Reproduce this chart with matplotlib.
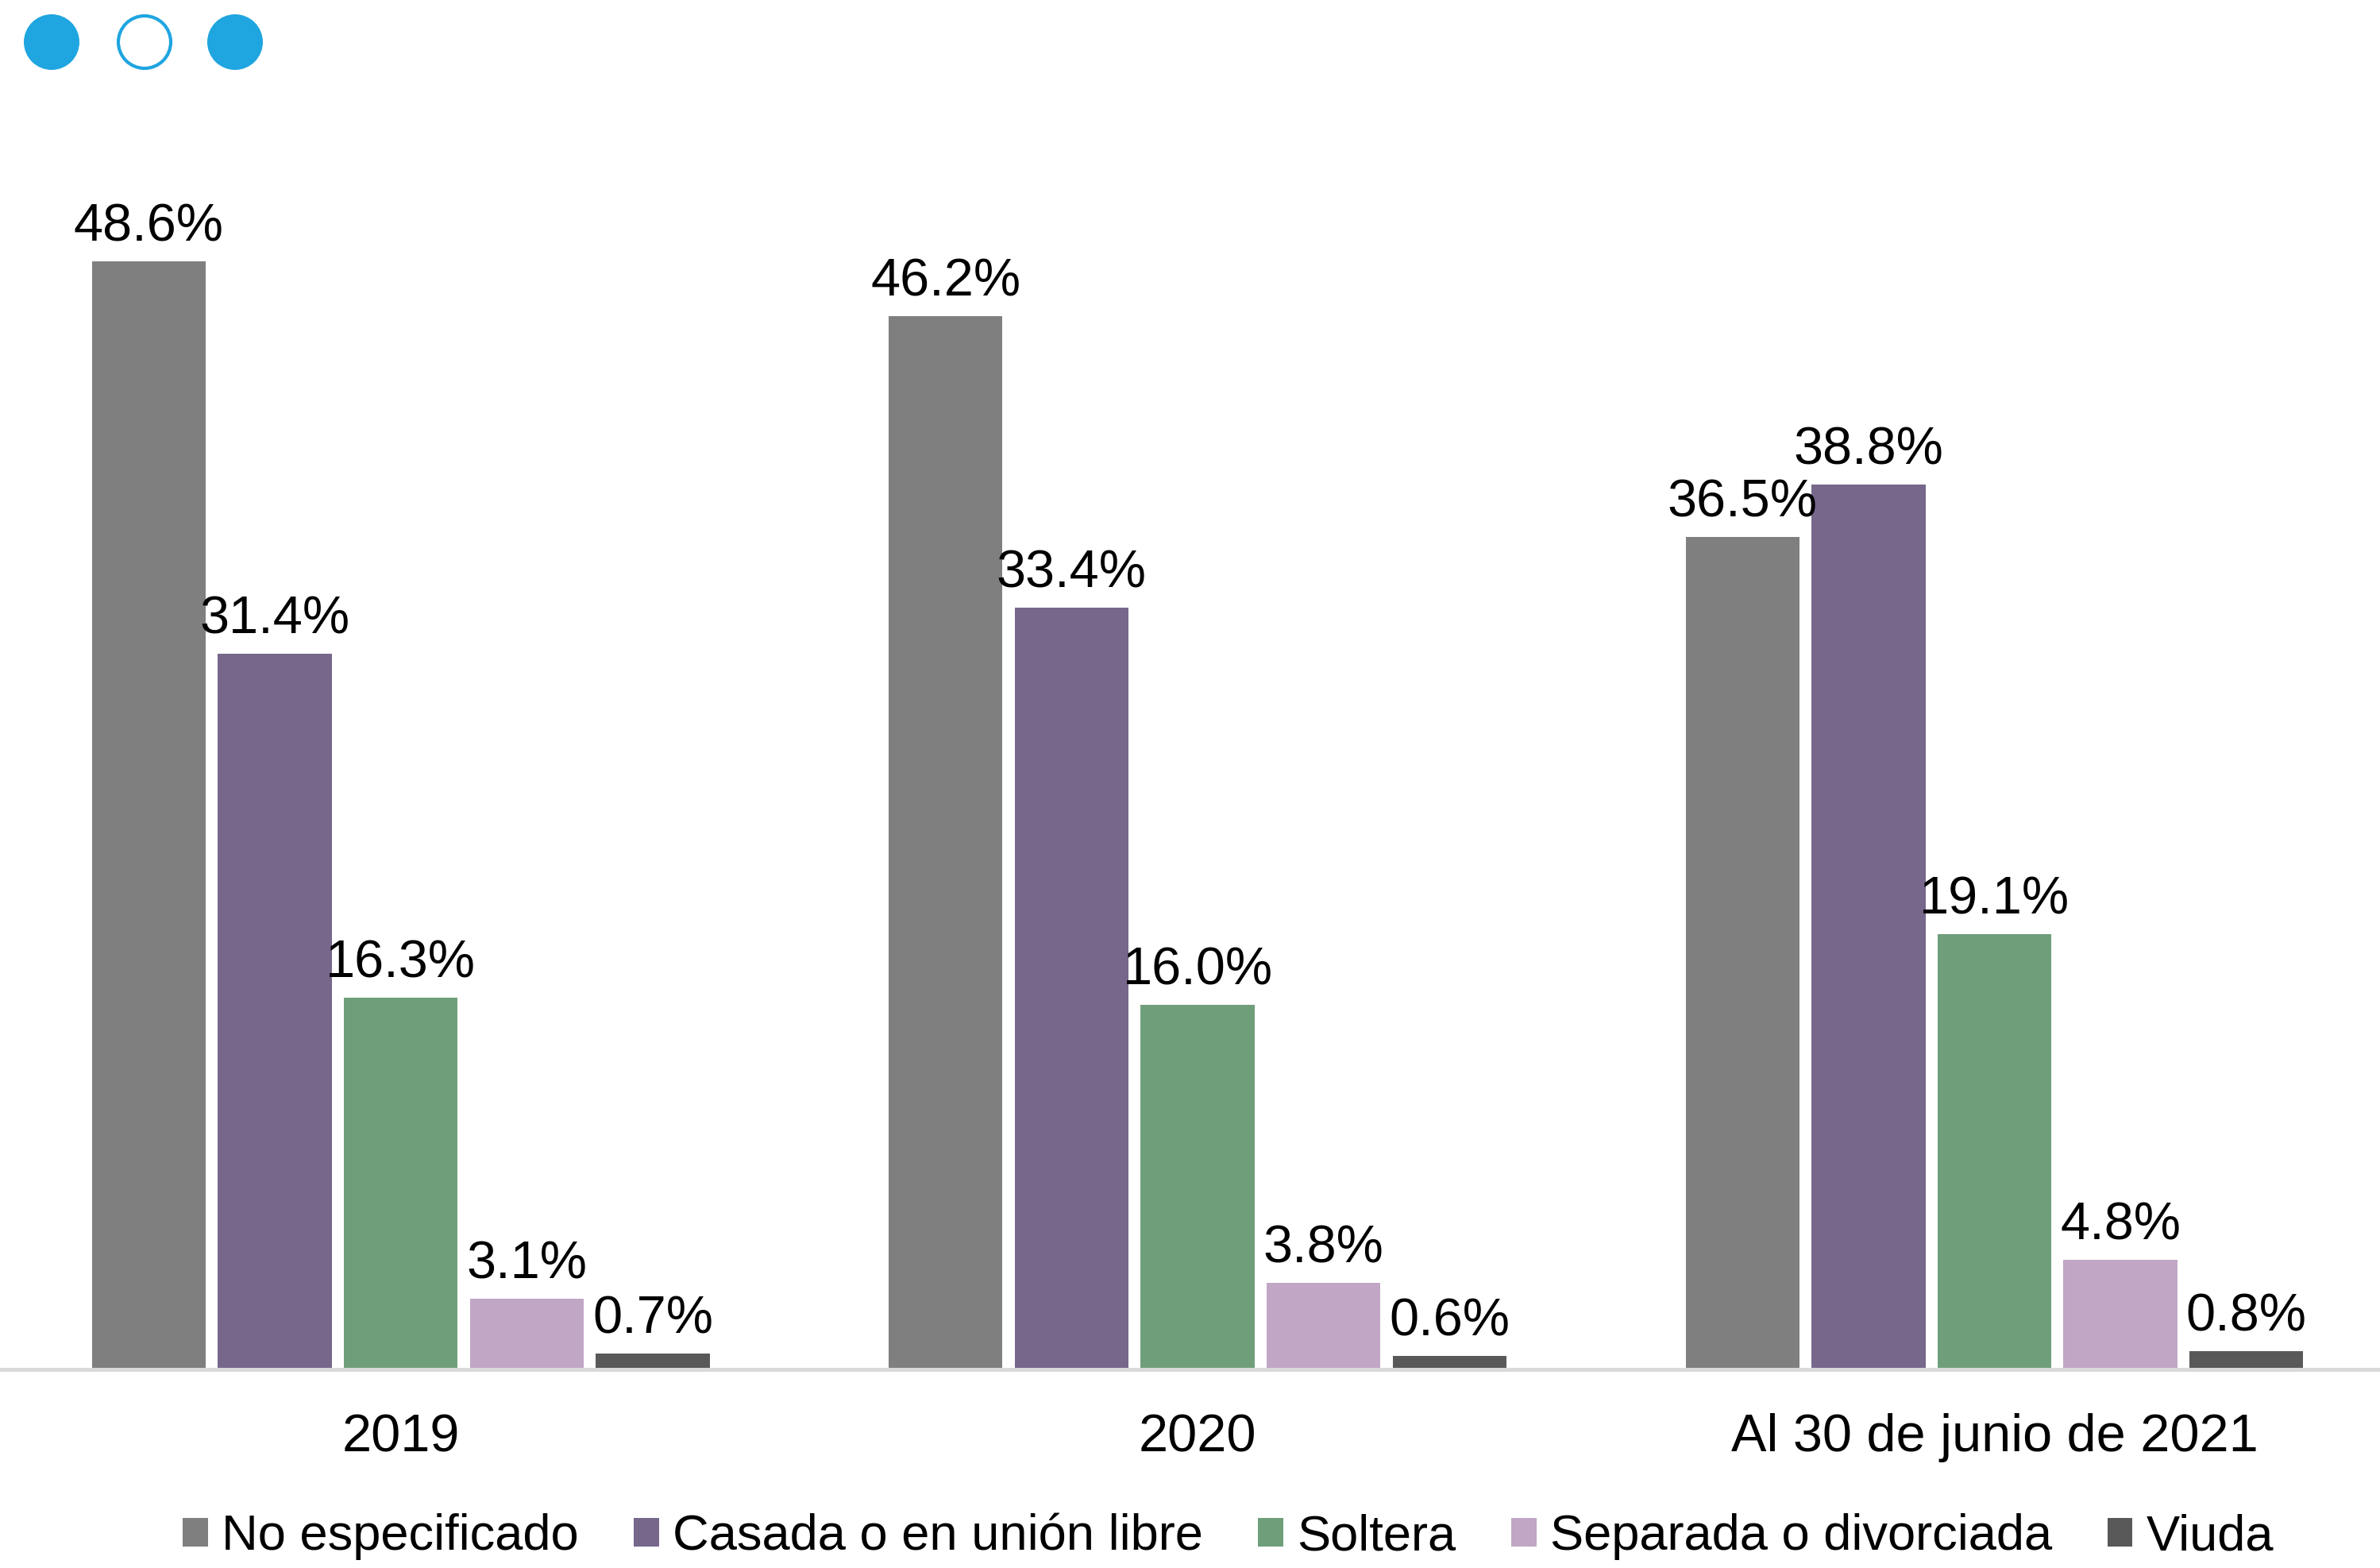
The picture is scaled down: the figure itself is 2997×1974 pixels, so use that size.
import numpy as np
import matplotlib
matplotlib.use('Agg')
import matplotlib.pyplot as plt
from matplotlib.patches import Circle

plt.rcParams['font.family'] = ['Liberation Sans', 'DejaVu Sans']

# data
periods = ['2019', '2020', 'Al 30 de junio de 2021']
series = ['No especificado', 'Casada o en unión libre', 'Soltera',
          'Separada o divorciada', 'Viuda']
no_especificado = [48.6, 46.2, 36.5]
casada = [31.4, 33.4, 38.8]
soltera = [16.3, 16.0, 19.1]
separada = [3.1, 3.8, 4.8]
viuda = [0.7, 0.6, 0.8]
values = [no_especificado, casada, soltera, separada, viuda]
colors = ['#7F7F7F', '#76678B', '#6F9F7A', '#C1A6C6', '#595959']

W, H = 2997, 1974
fig = plt.figure(figsize=(W / 300, H / 300), dpi=300)

base_y = 1724
ax = fig.add_axes([0, 1 - base_y / H, 1, base_y / H])

x = np.arange(len(periods))
step = 83 / 525
width = 75 / 525
for i, (name, vals, c) in enumerate(zip(series, values, colors)):
    pos = x + (i - 2) * step
    bars = ax.bar(pos, vals, width, color=c, label=name, zorder=2)
    for b, v in zip(bars, vals):
        ax.annotate(f'{v:.1f}%', (b.get_x() + b.get_width() / 2, v),
                    xytext=(0, 2.7), textcoords='offset points',
                    ha='center', va='bottom', fontsize=16, color='black')

ax.set_xlim(-264 / 525, (1568 - 264) / 525)
ax.set_ylim(0, base_y / (15.02 * W / 1568))
ax.set_xticks(x)
ax.set_xticklabels(periods, fontsize=16)
ax.tick_params(axis='x', length=0, pad=13.2)
ax.set_yticks([])
for s in ['top', 'right', 'left']:
    ax.spines[s].set_visible(False)
ax.spines['bottom'].set_color('#D9D9D9')
ax.spines['bottom'].set_linewidth(1.2)
ax.patch.set_alpha(0)

leg = fig.legend(loc='center', bbox_to_anchor=(0.516, 1 - 1935 / H), ncol=5,
                 frameon=False, fontsize=15.2, handlelength=0.5,
                 handleheight=0.5, handletextpad=0.27, columnspacing=1.1,
                 borderaxespad=0, borderpad=0)

# decorative dots top-left
ov = fig.add_axes([0, 0, 1, 1])
ov.set_xlim(0, W)
ov.set_ylim(H, 0)
ov.axis('off')
ov.patch.set_alpha(0)
blue = '#1FA5E0'
ov.add_patch(Circle((65, 53), 35, color=blue, lw=0))
ov.add_patch(Circle((182, 53), 33, facecolor='white', edgecolor=blue, lw=1.0))
ov.add_patch(Circle((296, 53), 35, color=blue, lw=0))

fig.savefig('out.png', dpi=300)
